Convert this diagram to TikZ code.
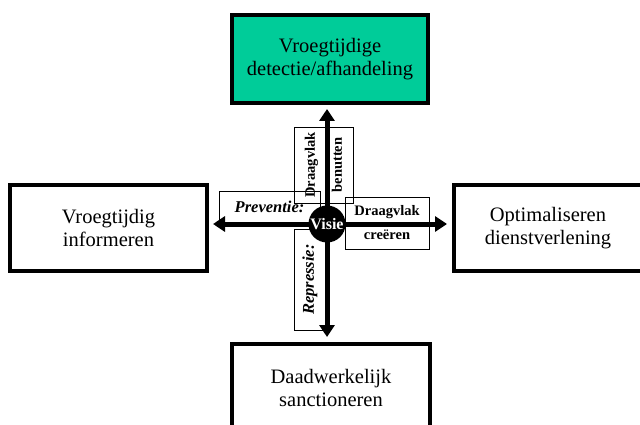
\documentclass[tikz,border=0pt]{standalone}
\usepackage{fontspec}
\setmainfont{Liberation Serif}
\usetikzlibrary{arrows.meta}
\definecolor{detectgreen}{RGB}{0,204,153}
\begin{document}
\begin{tikzpicture}[x=1pt,y=-1pt,
  goal/.style={draw, line width=4pt, inner sep=0pt, align=center,
    font=\fontsize{20.5}{23}\selectfont},
  tag/.style={draw, line width=0.8pt, inner sep=0pt, align=center,
    font=\fontsize{14.5}{24}\selectfont\bfseries},
  tagit/.style={tag, font=\fontsize{16.5}{20}\selectfont\bfseries\itshape},
  axis/.style={line width=5pt, -{Triangle[width=15pt,length=12pt]}}]
\useasboundingbox (0,0) rectangle (640,425);
\clip (0,0) rectangle (640,425);

% the four goals
\node[goal, fill=detectgreen, minimum width=196pt, minimum height=88pt] (top) at (330,59)
  {Vroegtijdige\\detectie/afhandeling};
\node[goal, minimum width=197pt, minimum height=86pt] (left) at (108.5,228)
  {Vroegtijdig\\informeren};
\node[goal, minimum width=188pt, minimum height=86pt] (right) at (548,228)
  {Optimaliseren\\dienstverlening};
\node[goal, minimum width=198pt, minimum height=88pt] (bottom) at (331,388)
  {Daadwerkelijk\\sanctioneren};

% labels along the axes
\node[tag, rotate=90, minimum width=76pt, minimum height=59pt,
  font=\fontsize{14.5}{27}\selectfont\bfseries] (benut) at (323.5,165)
  {Draagvlak\\benutten};
\node[tagit, minimum width=101pt, minimum height=32pt] (prev) at (269.5,207) {Preventie:};
\node[tag, minimum width=84pt, minimum height=52pt] (creeer) at (387,223)
  {Draagvlak\\creëren};
\node[tagit, rotate=90, minimum width=101pt, minimum height=32pt] (repr) at (310,279.5) {Repressie:};

% centre and axes
\coordinate (c) at (327,224);
\draw[axis, shorten >=4pt] (c) -- (c |- top.south);
\draw[axis, shorten >=5pt] (c) -- (c |- bottom.north);
\draw[axis, shorten >=4pt] (c) -- (c -| left.east);
\draw[axis, shorten >=5pt] (c) -- (c -| right.west);
\node[circle, fill=black, minimum size=37pt, inner sep=0pt, text=white,
  font=\fontsize{16}{16}\selectfont\bfseries] (visie) at (c) {Visie};
\end{tikzpicture}
\end{document}
